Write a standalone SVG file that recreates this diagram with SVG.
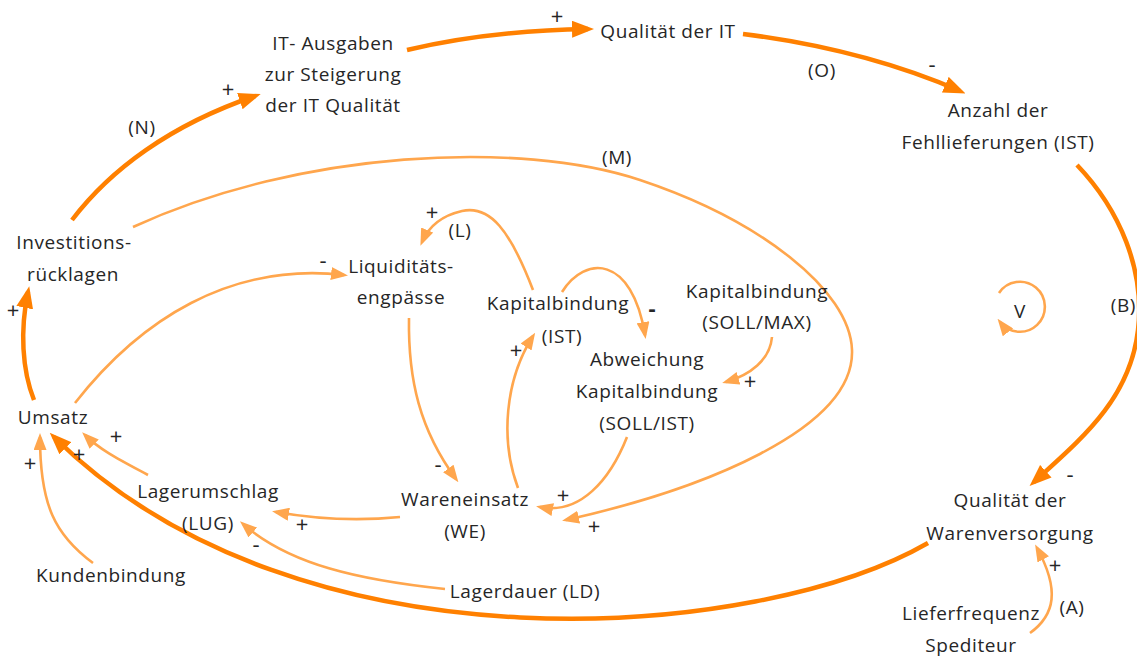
<svg xmlns="http://www.w3.org/2000/svg" width="1137" height="657" viewBox="0 0 1137 657">
<style>
text{font-family:"Open Sans","Noto Sans","Liberation Sans",sans-serif;font-size:19px;letter-spacing:0.6px;fill:#262626;text-anchor:middle}
.s{font-size:22px;letter-spacing:0}
.d{fill:none;stroke:#FF8000;stroke-width:4.5}
.l{fill:none;stroke:#FFA64D;stroke-width:2.6}
</style>
<defs>
<marker id="ad" markerUnits="userSpaceOnUse" viewBox="0 0 22 17" refX="16" refY="8.5" markerWidth="22" markerHeight="17" orient="auto"><path d="M0,0L22,8.5L0,17z" fill="#FF8000"/></marker>
<marker id="al" markerUnits="userSpaceOnUse" viewBox="0 0 17 13" refX="13" refY="6.5" markerWidth="17" markerHeight="13" orient="auto"><path d="M0,0L17,6.5L0,13z" fill="#FFA64D"/></marker>
</defs>
<rect width="1137" height="657" fill="#fff"/>
<g id="connectors">
<path class="d" d="M72,220 C110,170 170,125 255,96" marker-end="url(#ad)"/>
<path class="d" d="M407,50 C470,35 530,30 588,29" marker-end="url(#ad)"/>
<path class="d" d="M743,34 C830,45 900,65 960,91" marker-end="url(#ad)"/>
<path class="d" d="M1077,165 C1120,210 1145,270 1138,330 C1130,400 1080,440 1034,482" marker-end="url(#ad)"/>
<path class="d" d="M928,543 C760,640 300,680 54,437" marker-end="url(#ad)"/>
<path class="d" d="M34,400 C22,370 20,330 28,292" marker-end="url(#ad)"/>
<path class="l" d="M133,227 C300,150 520,140 640,180 C760,220 850,290 852,350 C855,430 700,490 566,520" marker-end="url(#al)"/>
<path class="l" d="M75,403 C140,320 230,262 344,275" marker-end="url(#al)"/>
<path class="l" d="M409,318 C408,380 420,430 456,479" marker-end="url(#al)"/>
<path class="l" d="M533,290 C510,230 490,205 462,211 C440,216 428,228 422,242" marker-end="url(#al)"/>
<path class="l" d="M562,292 C585,255 632,255 645,335" marker-end="url(#al)"/>
<path class="l" d="M518,488 C500,440 505,380 533,336" marker-end="url(#al)"/>
<path class="l" d="M627,437 C610,480 580,515 540,507" marker-end="url(#al)"/>
<path class="l" d="M772,337 C770,360 750,375 726,382" marker-end="url(#al)"/>
<path class="l" d="M400,517 C350,522 310,518 276,512" marker-end="url(#al)"/>
<path class="l" d="M445,589 C360,580 290,565 243,524" marker-end="url(#al)"/>
<path class="l" d="M148,475 C120,460 100,450 85,435" marker-end="url(#al)"/>
<path class="l" d="M93,563 C55,535 40,505 40,437" marker-end="url(#al)"/>
<path class="l" d="M1030,633 C1055,615 1060,590 1037,548" marker-end="url(#al)"/>
<path class="l" d="M999,293 A25,25 0 1 1 1000,322" marker-end="url(#al)"/>
</g>
<g id="labels">
<text x="142" y="134">(N)</text>
<text x="228" y="97" class="s">+</text>
<text x="557" y="24" class="s">+</text>
<text x="822" y="77">(O)</text>
<text x="932" y="72" class="s">-</text>
<text x="617" y="164">(M)</text>
<text x="13" y="318" class="s">+</text>
<text x="323" y="268" class="s">-</text>
<text x="432" y="220" class="s">+</text>
<text x="460" y="237">(L)</text>
<text x="652" y="316" class="s" style="font-weight:bold">-</text>
<text x="516" y="358" class="s">+</text>
<text x="750" y="389" class="s">+</text>
<text x="1020" y="318">V</text>
<text x="1136" y="312" style="text-anchor:end">(B)</text>
<text x="438" y="472" class="s">-</text>
<text x="563" y="503" class="s">+</text>
<text x="594" y="534" class="s">+</text>
<text x="302" y="532" class="s">+</text>
<text x="256" y="552" class="s">-</text>
<text x="116" y="444" class="s">+</text>
<text x="79" y="462" class="s">+</text>
<text x="30" y="471" class="s">+</text>
<text x="1070" y="482" class="s">-</text>
<text x="1055" y="573" class="s">+</text>
<text x="1072" y="614">(A)</text>
</g>
<g id="n-it-ausgaben"><text x="333" y="50">IT- Ausgaben</text><text x="333" y="81">zur Steigerung</text><text x="333" y="112">der IT Qualität</text></g>
<g id="n-qualitaet-it"><text x="668" y="38">Qualität der IT</text></g>
<g id="n-fehllieferungen"><text x="998" y="117">Anzahl der</text><text x="998" y="149">Fehllieferungen (IST)</text></g>
<g id="n-investitions"><text x="74" y="249">Investitions-</text><text x="73" y="281">rücklagen</text></g>
<g id="n-umsatz"><text x="53" y="424">Umsatz</text></g>
<g id="n-liquiditaet"><text x="401" y="273">Liquiditäts-</text><text x="401" y="304">engpässe</text></g>
<g id="n-kb-ist"><text x="558" y="310">Kapitalbindung</text><text x="562" y="343">(IST)</text></g>
<g id="n-kb-soll"><text x="757" y="298">Kapitalbindung</text><text x="757" y="329">(SOLL/MAX)</text></g>
<g id="n-abweichung"><text x="647" y="366">Abweichung</text><text x="647" y="398">Kapitalbindung</text><text x="647" y="430">(SOLL/IST)</text></g>
<g id="n-wareneinsatz"><text x="465" y="506">Wareneinsatz</text><text x="465" y="538">(WE)</text></g>
<g id="n-lagerumschlag"><text x="208" y="498">Lagerumschlag</text><text x="208" y="530">(LUG)</text></g>
<g id="n-kundenbindung"><text x="111" y="582">Kundenbindung</text></g>
<g id="n-lagerdauer"><text x="525" y="598">Lagerdauer (LD)</text></g>
<g id="n-warenversorgung"><text x="1010" y="507">Qualität der</text><text x="1010" y="540">Warenversorgung</text></g>
<g id="n-lieferfrequenz"><text x="971" y="620">Lieferfrequenz</text><text x="971" y="652">Spediteur</text></g>
</svg>
